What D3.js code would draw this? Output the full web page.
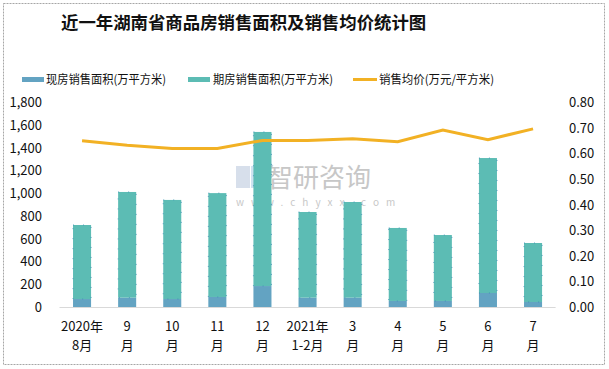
<!DOCTYPE html>
<html><head><meta charset="utf-8">
<script src="https://cdn.jsdelivr.net/npm/d3@7/dist/d3.min.js"></script>
<style>
body{margin:0;background:#fff;}
svg{display:block;}
text{font-family:"SimSun","Noto Sans CJK SC",sans-serif;}
</style></head><body>
<svg id="c" width="609" height="369"></svg>
<script>
const categories = [["2020年","8月"],["9","月"],["10","月"],["11","月"],["12","月"],["2021年","1-2月"],["3","月"],["4","月"],["5","月"],["6","月"],["7","月"]];
const existingArea = [70, 82, 70, 88, 184, 82, 82, 53, 53, 123, 44];
const totalArea = [720, 1010, 940, 1000, 1537, 834, 922, 694, 632, 1308, 562];
const futuresArea = totalArea.map((t,i)=>t-existingArea[i]);
const avgPrice = [0.649, 0.631, 0.619, 0.619, 0.650, 0.650, 0.657, 0.645, 0.691, 0.653, 0.695];
const leftTicks = [0,200,400,600,800,1000,1200,1400,1600,1800];
const rightTicks = [0,0.1,0.2,0.3,0.4,0.5,0.6,0.7,0.8];
const legendLabels = ["现房销售面积(万平方米)","期房销售面积(万平方米)","销售均价(万元/平方米)"];
const title = "近一年湖南省商品房销售面积及销售均价统计图";

const colBlue="#63a3c2", colTeal="#5cbcb4", colOrange="#f2b124";
const svg=d3.select("#c");
svg.append("rect").attr("x",3.5).attr("y",3.5).attr("width",601).attr("height",361)
  .attr("fill","none").attr("stroke","#a6a6a6").attr("stroke-width",1).attr("stroke-dasharray","2,1");

svg.append("text").attr("x",61).attr("y",29).attr("font-size",17.4).attr("font-weight","bold")
  .attr("font-family","'Noto Serif CJK SC','SimSun','Noto Sans CJK SC',serif").attr("fill","#111").text(title);

const x=d3.scaleBand().domain(d3.range(categories.length)).range([59.5,555.6]).paddingInner(0.6).paddingOuter(0.3);
const yL=d3.scaleLinear().domain([0,1800]).range([307,102]);
const yR=d3.scaleLinear().domain([0,0.8]).range([307,102]);

const wm=svg.append("g").attr("opacity",0.55);
wm.append("rect").attr("x",236).attr("y",166).attr("width",14).attr("height",22).attr("fill","#b8c6dc");
wm.append("rect").attr("x",251).attr("y",166).attr("width",9).attr("height",22).attr("fill","#a9cde6");
wm.append("text").attr("x",267).attr("y",187).attr("font-size",26).attr("fill","#9a9a9a")
  .attr("font-family","'Noto Sans CJK SC',sans-serif").text("智研咨询");
wm.append("text").attr("x",236).attr("y",206).attr("font-size",10).attr("fill","#9a9a9a")
  .attr("letter-spacing","7").attr("font-family","'DejaVu Sans',sans-serif").text("www.chyxx.com");

const g=svg.append("g");
categories.forEach((c,i)=>{
  g.append("rect").attr("x",x(i)).attr("width",x.bandwidth())
    .attr("y",yL(existingArea[i])).attr("height",yL(0)-yL(existingArea[i])).attr("fill",colBlue);
  g.append("rect").attr("x",x(i)).attr("width",x.bandwidth())
    .attr("y",yL(existingArea[i]+futuresArea[i])).attr("height",yL(existingArea[i])-yL(existingArea[i]+futuresArea[i]))
    .attr("fill",colTeal).attr("stroke","#3d8fb8").attr("stroke-width",0.8).attr("stroke-dasharray","1,9");
});
svg.append("line").attr("x1",59.5).attr("x2",555.6).attr("y1",307.5).attr("y2",307.5).attr("stroke","#d9d9d9");

const line=d3.line().x((d,i)=>x(i)+x.bandwidth()/2).y(d=>yR(d));
svg.append("path").datum(avgPrice).attr("d",line).attr("fill","none").attr("stroke",colOrange).attr("stroke-width",3);

const fmt=d3.format(",");
leftTicks.forEach(t=>{
  svg.append("text").attr("x",42).attr("y",yL(t)+5).attr("text-anchor","end").attr("font-size",13)
    .attr("font-family","'DejaVu Sans',sans-serif").attr("fill","#111").text(fmt(t));
});
rightTicks.forEach(t=>{
  svg.append("text").attr("x",569).attr("y",yR(t)+5).attr("text-anchor","start").attr("font-size",13)
    .attr("font-family","'DejaVu Sans',sans-serif").attr("fill","#111").text(t.toFixed(2));
});
categories.forEach((c,i)=>{
  const cx=x(i)+x.bandwidth()/2;
  svg.append("text").attr("x",cx).attr("y",331).attr("text-anchor","middle").attr("font-size",13).attr("fill","#111")
    .attr("font-family","'Liberation Sans','DejaVu Sans',sans-serif").text(c[0]);
  svg.append("text").attr("x",cx).attr("y",350).attr("text-anchor","middle").attr("font-size",13).attr("fill","#111")
    .attr("font-family","'Liberation Sans','DejaVu Sans',sans-serif").text(c[1]);
});

const lg=svg.append("g");
lg.append("rect").attr("x",22).attr("y",77).attr("width",22).attr("height",5).attr("fill",colBlue);
lg.append("text").attr("x",46).attr("y",84).attr("font-size",12).attr("textLength",120).attr("lengthAdjust","spacingAndGlyphs").attr("fill","#111").text(legendLabels[0]);
lg.append("rect").attr("x",188).attr("y",77).attr("width",22).attr("height",5).attr("fill",colTeal);
lg.append("text").attr("x",213).attr("y",84).attr("font-size",12).attr("textLength",120).attr("lengthAdjust","spacingAndGlyphs").attr("fill","#111").text(legendLabels[1]);
lg.append("line").attr("x1",353).attr("x2",377).attr("y1",79.5).attr("y2",79.5).attr("stroke",colOrange).attr("stroke-width",3);
lg.append("text").attr("x",379).attr("y",84).attr("font-size",12).attr("textLength",115).attr("lengthAdjust","spacingAndGlyphs").attr("fill","#111").text(legendLabels[2]);
</script></body></html>
